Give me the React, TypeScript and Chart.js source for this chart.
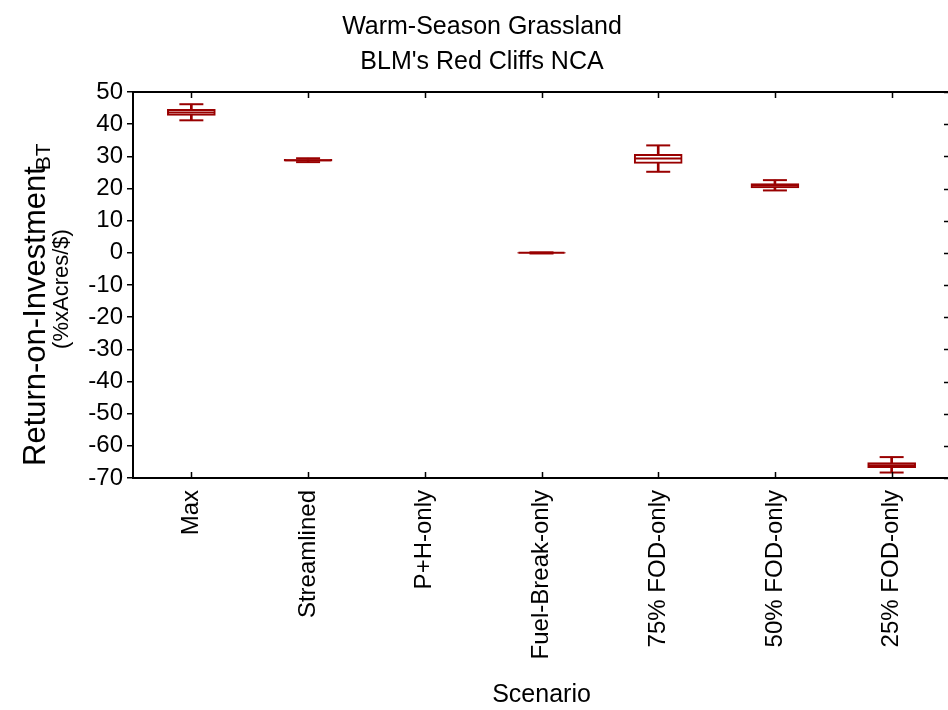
import React, { useEffect, useRef } from 'react';
import { Chart, registerables } from 'chart.js';

Chart.register(...registerables);

// ---- data ----
const categories = ['Max', 'Streamlined', 'P+H-only', 'Fuel-Break-only', '75% FOD-only', '50% FOD-only', '25% FOD-only'];
const whiskerLow = [41.2, 28.2, null, -0.2, 25.2, 19.4, -68.3];
const boxLow = [42.7, 28.5, null, -0.1, 27.8, 20.2, -66.8];
const medians = [43.6, 28.8, null, 0.0, 29.3, 20.9, -66.0];
const boxHigh = [44.6, 29.1, null, 0.05, 30.6, 21.5, -65.2];
const whiskerHigh = [46.2, 29.4, null, 0.15, 33.4, 22.6, -63.5];

const yMin = -70;
const yMax = 50;
const yStep = 10;

const titleLines = ['Warm-Season Grassland', "BLM's Red Cliffs NCA"];
const xTitle = 'Scenario';
const yTitleMain = 'Return-on-Investment';
const yTitleSub = 'BT';
const yTitleUnit = '(%xAcres/$)';

const RED = '#990000';
const FONT = "'Liberation Sans', Arial, Helvetica, sans-serif";

const yTitlePlugin = {
  id: 'yTitlePlugin',
  afterDraw(chart: any) {
    const ctx = chart.ctx as CanvasRenderingContext2D;
    ctx.save();
    ctx.fillStyle = '#000';
    ctx.textAlign = 'left';
    ctx.textBaseline = 'alphabetic';
    // main title with subscript
    ctx.save();
    ctx.translate(45, 466);
    ctx.rotate(-Math.PI / 2);
    ctx.font = `31px ${FONT}`;
    const mainW = ctx.measureText(yTitleMain).width;
    ctx.fillText(yTitleMain, 0, 0);
    ctx.font = `21px ${FONT}`;
    ctx.fillText(yTitleSub, mainW - 4, 5);
    ctx.restore();
    // unit line
    ctx.save();
    const { top, bottom } = chart.chartArea;
    const cy = (top + bottom) / 2 + 4;
    ctx.translate(68, cy);
    ctx.rotate(-Math.PI / 2);
    ctx.font = `22px ${FONT}`;
    ctx.textAlign = 'center';
    ctx.fillText(yTitleUnit, 0, 0);
    ctx.restore();
    ctx.restore();
  },
};

const innerTicksPlugin = {
  id: 'innerTicksPlugin',
  afterDraw(chart: any) {
    const ctx = chart.ctx as CanvasRenderingContext2D;
    const { top, bottom, right } = chart.chartArea;
    const xs = chart.scales.x;
    const ys = chart.scales.y;
    ctx.save();
    ctx.strokeStyle = '#000';
    ctx.lineWidth = 1.5;
    ctx.beginPath();
    for (let i = 0; i < categories.length; i++) {
      const px = Math.round(xs.getPixelForTick(i)) + 0.5;
      ctx.moveTo(px, bottom);
      ctx.lineTo(px, bottom - 6);
      ctx.moveTo(px, top);
      ctx.lineTo(px, top + 6);
    }
    for (let v = yMin; v <= yMax; v += yStep) {
      const py = Math.round(ys.getPixelForValue(v)) + 0.5;
      ctx.moveTo(right, py);
      ctx.lineTo(right - 6, py);
    }
    ctx.stroke();
    ctx.restore();
  },
};

export default function App() {
  const ref = useRef<HTMLCanvasElement | null>(null);

  useEffect(() => {
    if (!ref.current) return;
    const whiskers = categories.map((_, i) =>
      whiskerLow[i] == null ? null : [whiskerLow[i] as number, whiskerHigh[i] as number]
    );
    const boxes = categories.map((_, i) =>
      boxLow[i] == null ? null : [boxLow[i] as number, boxHigh[i] as number]
    );
    const zeroPad = (s: any) => {
      s.paddingLeft = 0;
      s.paddingRight = 0;
      s.paddingTop = 0;
      s.paddingBottom = 0;
    };
    const chart = new Chart(ref.current, {
      type: 'bar',
      data: {
        labels: categories,
        datasets: [
          {
            type: 'bar',
            label: 'whisker',
            data: whiskers as any,
            backgroundColor: RED,
            borderWidth: 0,
            barThickness: 2,
            grouped: false,
            order: 5,
          } as any,
          {
            type: 'bar',
            label: 'box',
            data: boxes as any,
            backgroundColor: '#ffffff',
            borderColor: RED,
            borderWidth: 2,
            borderSkipped: false,
            barThickness: 48,
            grouped: false,
            order: 4,
          } as any,
          {
            type: 'line',
            label: 'low cap',
            data: whiskerLow as any,
            showLine: false,
            pointStyle: 'line',
            pointRadius: 12,
            pointBorderWidth: 2,
            pointBorderColor: RED,
            borderColor: RED,
            order: 2,
          } as any,
          {
            type: 'line',
            label: 'high cap',
            data: whiskerHigh as any,
            showLine: false,
            pointStyle: 'line',
            pointRadius: 12,
            pointBorderWidth: 2,
            pointBorderColor: RED,
            borderColor: RED,
            order: 1,
          } as any,
          {
            type: 'line',
            label: 'median',
            data: medians as any,
            showLine: false,
            pointStyle: 'line',
            pointRadius: 23,
            pointBorderWidth: 2,
            pointBorderColor: RED,
            borderColor: RED,
            order: 0,
          } as any,
        ],
      },
      options: {
        animation: false,
        responsive: true,
        maintainAspectRatio: false,
        events: [],
        layout: { autoPadding: false, padding: { left: 13, right: 0, top: 0, bottom: 0 } },
        plugins: {
          legend: { display: false },
          tooltip: { enabled: false },
          title: {
            display: true,
            text: titleLines,
            color: '#000',
            font: { size: 25, family: FONT, weight: 'normal', lineHeight: 1.4 },
            padding: { top: 10, bottom: 12 },
          },
        },
        scales: {
          x: {
            type: 'category',
            position: 'bottom',
            offset: true,
            grid: { display: false },
            border: { display: true, color: '#000', width: 2 },
            ticks: {
              color: '#000',
              font: { size: 24, family: FONT },
              minRotation: 90,
              maxRotation: 90,
              padding: 4,
              autoSkip: false,
            },
            title: {
              display: true,
              text: xTitle,
              color: '#000',
              font: { size: 25, family: FONT },
              padding: { top: 0, bottom: 0 },
            },
            afterFit: (s: any) => {
              s.height = 232;
              zeroPad(s);
            },
          },
          x2: {
            type: 'category',
            position: 'top',
            offset: true,
            grid: { display: false },
            border: { display: true, color: '#000', width: 2 },
            ticks: { display: false },
            afterFit: (s: any) => {
              s.height = 0;
              zeroPad(s);
            },
          },
          y: {
            type: 'linear',
            position: 'left',
            min: yMin,
            max: yMax,
            grid: { drawOnChartArea: false, drawTicks: true, tickLength: 6, color: '#000', lineWidth: 1.5 },
            border: { display: true, color: '#000', width: 2 },
            ticks: {
              stepSize: yStep,
              color: '#000',
              font: { size: 24, family: FONT },
              padding: 4,
            },
            afterFit: (s: any) => {
              s.width = 120;
              zeroPad(s);
            },
          },
          y2: {
            type: 'linear',
            position: 'right',
            min: yMin,
            max: yMax,
            grid: { display: false },
            border: { display: true, color: '#000', width: 2 },
            ticks: { display: false },
            afterFit: (s: any) => {
              s.width = 1;
              zeroPad(s);
            },
          },
        },
      } as any,
      plugins: [yTitlePlugin, innerTicksPlugin],
    });
    return () => chart.destroy();
  }, []);

  return (
    <div style={{ position: 'fixed', left: 0, top: 0, width: 948, height: 710, overflow: 'hidden', background: '#fff' }}>
      <div style={{ position: 'relative', width: 951, height: 710 }}>
        <canvas ref={ref} />
      </div>
    </div>
  );
}
